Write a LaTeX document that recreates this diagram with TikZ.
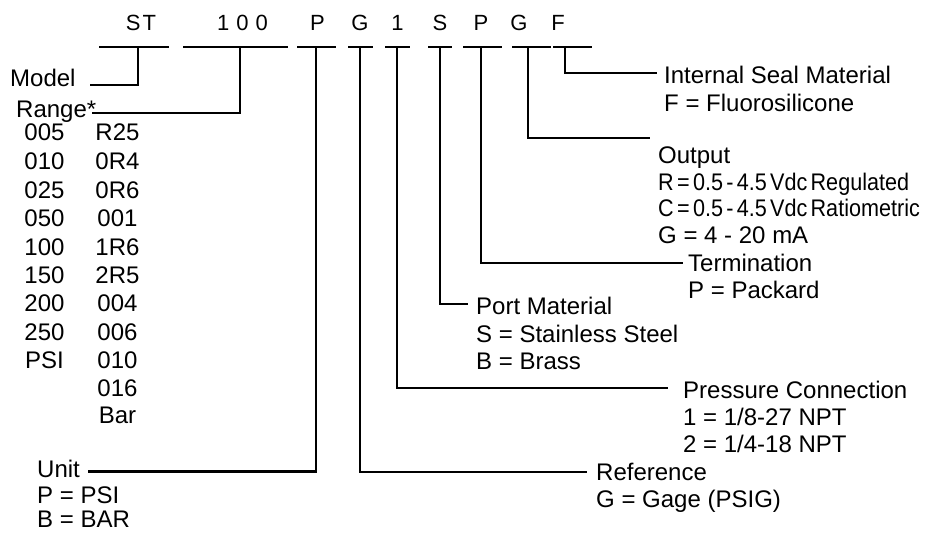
\documentclass[tikz,border=0pt]{standalone}
\usepackage{fontspec}
\setmainfont{Liberation Sans}
\newfontfamily\condfont[FakeStretch=0.9,WordSpace=0.55]{Liberation Sans}
\begin{document}
\begin{tikzpicture}[x=1pt,y=-1pt,
  lbl/.style={anchor=base west, inner sep=0pt, font=\fontsize{24}{28}\selectfont},
  num/.style={anchor=base, inner sep=0pt, font=\fontsize{24}{28}\selectfont},
  code/.style={anchor=base, inner sep=0pt, font=\fontsize{22}{26}\selectfont},
  bar/.style={line width=2.3pt},
  conn/.style={line width=2.2pt}]
\useasboundingbox (0,0) rectangle (930,533);

% ---- code letters
\node[code] (cST) at (141,30) {S\hspace{2pt}T};
\node[code] (c100) at (242.5,30) {1\hspace{7pt}0\hspace{7pt}0};
\node[code] (cP) at (317.5,30) {P};
\node[code] (cG) at (360,30) {G};
\node[code] (c1) at (397.5,30) {1};
\node[code] (cS) at (440,30) {S};
\node[code] (cP2) at (481,30) {P};
\node[code] (cG2) at (519,30) {G};
\node[code] (cF) at (558,30) {F};

% ---- bars (left end, right end, tap)
\coordinate (b1l) at (99,47);  \coordinate (b1r) at (169,47); \coordinate (b1t) at (138,47);
\coordinate (b2l) at (183,47); \coordinate (b2r) at (288,47); \coordinate (b2t) at (240,47);
\coordinate (b3l) at (297,47); \coordinate (b3r) at (336,47); \coordinate (b3t) at (316,47);
\coordinate (b4l) at (348,47); \coordinate (b4r) at (373,47); \coordinate (b4t) at (360,47);
\coordinate (b5l) at (385,47); \coordinate (b5r) at (410,47); \coordinate (b5t) at (397,47);
\coordinate (b6l) at (428,47); \coordinate (b6r) at (452,47); \coordinate (b6t) at (440,47);
\coordinate (b7l) at (463,47); \coordinate (b7r) at (502,47); \coordinate (b7t) at (481,47);
\coordinate (b8l) at (512,47); \coordinate (b8r) at (551,47); \coordinate (b8t) at (528,47);
\coordinate (b9l) at (553,47); \coordinate (b9r) at (592,47); \coordinate (b9t) at (565,47);
\foreach \i in {1,...,9} {\draw[bar] (b\i l) -- (b\i r);}

% ---- connector ends
\coordinate (e1) at (90,85);
\coordinate (e2) at (92,113);
\coordinate (e3) at (88,471.5);
\coordinate (e4) at (587,472);
\coordinate (e5) at (668,388);
\coordinate (e6) at (468,304);
\coordinate (e7) at (683,263);
\coordinate (e8) at (650,138);
\coordinate (e9) at (657,73);
\foreach \i in {1,...,9} {\draw[conn] (b\i t) |- (e\i);}

% ---- Model / Range
\node[lbl] (model) at (10,86) {Model};
\node[lbl] (range) at (16,117) {Range*};
\node[num] (r1a) at (44.5,140) {005}; \node[num] (r1b) at (117.5,140) {R25};
\node[num] (r2a) at (44.5,169.5) {010}; \node[num] (r2b) at (117.5,169.5) {0R4};
\node[num] (r3a) at (44.5,198) {025}; \node[num] (r3b) at (117.5,198) {0R6};
\node[num] (r4a) at (44.5,226.5) {050}; \node[num] (r4b) at (117.5,226.5) {001};
\node[num] (r5a) at (44.5,255) {100}; \node[num] (r5b) at (117.5,255) {1R6};
\node[num] (r6a) at (44.5,283) {150}; \node[num] (r6b) at (117.5,283) {2R5};
\node[num] (r7a) at (44.5,311.5) {200}; \node[num] (r7b) at (117.5,311.5) {004};
\node[num] (r8a) at (44.5,340) {250}; \node[num] (r8b) at (117.5,340) {006};
\node[num] (r9a) at (44.5,368) {PSI}; \node[num] (r9b) at (117.5,368) {010};
\node[num] (r10b) at (117.5,396.5) {016};
\node[num] (r11b) at (117.5,423.5) {Bar};

% ---- Unit
\node[lbl] (unit) at (37,477.5) {Unit};
\node[lbl] (unit1) at (37,503) {P = PSI};
\node[lbl] (unit2) at (37,527.5) {B = BAR};

% ---- Reference
\node[lbl] (ref) at (596,480) {Reference};
\node[lbl] (ref1) at (596,507) {G = Gage (PSIG)};

% ---- Pressure Connection
\node[lbl] (pc) at (683,398) {Pressure Connection};
\node[lbl] (pc1) at (683,425) {1 = 1/8-27 NPT};
\node[lbl] (pc2) at (683,452) {2 = 1/4-18 NPT};

% ---- Port Material
\node[lbl] (pm) at (476,314) {Port Material};
\node[lbl] (pm1) at (476,342) {S = Stainless Steel};
\node[lbl] (pm2) at (476,369) {B = Brass};

% ---- Termination
\node[lbl] (term) at (688,271.5) {Termination};
\node[lbl] (term1) at (688,298) {P = Packard};

% ---- Output
\node[lbl] (out) at (658,163) {Output};
\node[lbl] (out1) at (658,190) {\condfont R = 0.5 - 4.5 Vdc Regulated};
\node[lbl] (out2) at (658,216.5) {\condfont C = 0.5 - 4.5 Vdc Ratiometric};
\node[lbl] (out3) at (658,243) {G = 4 - 20 mA};

% ---- Internal Seal Material
\node[lbl] (seal) at (664,83) {Internal Seal Material};
\node[lbl] (seal1) at (664,111) {F = Fluorosilicone};
\end{tikzpicture}
\end{document}
